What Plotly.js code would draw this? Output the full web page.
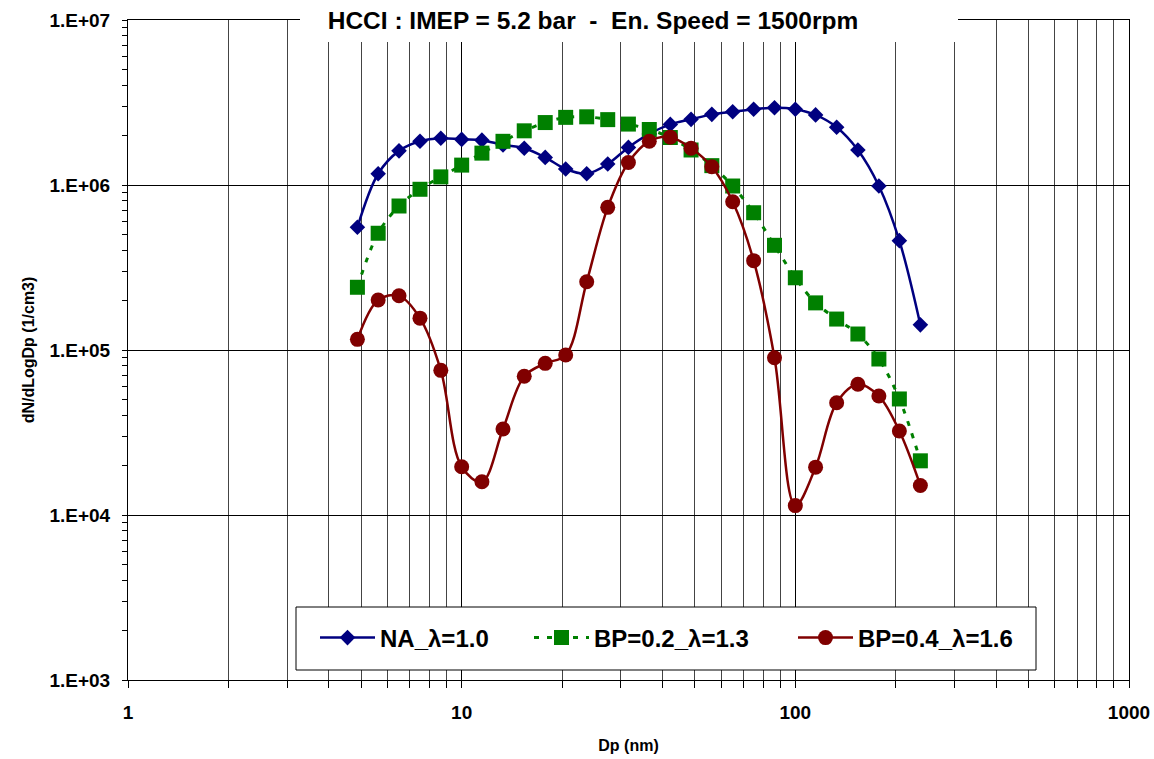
<!DOCTYPE html>
<html>
<head>
<meta charset="utf-8">
<script src="https://cdn.plot.ly/plotly-3.0.1.min.js"></script>
<style>html,body{margin:0;padding:0;background:#fff;}#chart{width:1154px;height:759px;}</style>
</head>
<body>
<div id="chart"></div>
<script>
// Particle diameter channels (nm)
const dp = [4.87, 5.62, 6.49, 7.50, 8.66, 10.0, 11.5, 13.3, 15.4, 17.8, 20.5, 23.7, 27.4, 31.6,
            36.5, 42.2, 48.7, 56.2, 64.9, 75.0, 86.6, 100, 115, 133, 154, 178, 205, 237];

// dN/dLogDp (1/cm3)
const naLambda10 = [5.54e5, 1.17e6, 1.61e6, 1.84e6, 1.92e6, 1.89e6, 1.87e6, 1.75e6, 1.67e6, 1.47e6,
                    1.25e6, 1.17e6, 1.34e6, 1.69e6, 2.04e6, 2.33e6, 2.50e6, 2.68e6, 2.78e6, 2.88e6,
                    2.94e6, 2.88e6, 2.66e6, 2.24e6, 1.63e6, 9.86e5, 4.60e5, 1.42e5];
const bp02Lambda13 = [2.40e5, 5.10e5, 7.46e5, 9.42e5, 1.12e6, 1.32e6, 1.56e6, 1.84e6, 2.13e6, 2.39e6,
                      2.57e6, 2.59e6, 2.49e6, 2.34e6, 2.17e6, 1.94e6, 1.63e6, 1.31e6, 9.86e5, 6.79e5,
                      4.31e5, 2.74e5, 1.93e5, 1.54e5, 1.25e5, 8.82e4, 5.05e4, 2.13e4];
const bp04Lambda16 = [1.16e5, 2.01e5, 2.13e5, 1.56e5, 7.53e4, 1.96e4, 1.59e4, 3.32e4, 6.93e4, 8.30e4,
                      9.33e4, 2.59e5, 7.32e5, 1.37e6, 1.84e6, 1.95e6, 1.67e6, 1.29e6, 7.92e5, 3.48e5,
                      8.98e4, 1.14e4, 1.95e4, 4.79e4, 6.20e4, 5.26e4, 3.23e4, 1.51e4];

const seriesNames = ['NA_λ=1.0', 'BP=0.2_λ=1.3', 'BP=0.4_λ=1.6'];

const xMajor = [1, 10, 100, 1000];
const xMajorText = ['1', '10', '100', '1000'];
const xMinor = [2,3,4,5,6,7,8,9,20,30,40,50,60,70,80,90,200,300,400,500,600,700,800,900];
const yMajor = [1e3, 1e4, 1e5, 1e6, 1e7];
const yMajorText = ['1.E+03', '1.E+04', '1.E+05', '1.E+06', '1.E+07'];
const yMinor = [2e3,3e3,4e3,5e3,6e3,7e3,8e3,9e3,2e4,3e4,4e4,5e4,6e4,7e4,8e4,9e4,
                2e5,3e5,4e5,5e5,6e5,7e5,8e5,9e5,2e6,3e6,4e6,5e6,6e6,7e6,8e6,9e6];

const FONT = 'Liberation Sans, Arial, sans-serif';

const traces = [
  {x: dp, y: naLambda10, name: seriesNames[0], type: 'scatter', mode: 'lines+markers', legend: 'legend',
   line: {color: '#000080', width: 2.5, shape: 'spline', smoothing: 1},
   marker: {symbol: 'diamond', size: 12, color: '#000080'}},
  {x: dp, y: bp02Lambda13, name: seriesNames[1], type: 'scatter', mode: 'lines+markers', legend: 'legend2',
   line: {color: '#008000', width: 3, shape: 'spline', smoothing: 1, dash: '5px,8px'},
   marker: {symbol: 'square', size: 15, color: '#008000'}},
  {x: dp, y: bp04Lambda16, name: seriesNames[2], type: 'scatter', mode: 'lines+markers', legend: 'legend3',
   line: {color: '#800000', width: 2.5, shape: 'spline', smoothing: 1},
   marker: {symbol: 'circle', size: 15, color: '#800000'}}
];

const px2x = p => (p - 128) / 1001;
const py2y = p => (680 - p) / 660;

const legendBase = px => ({
  orientation: 'h', x: px2x(px), xanchor: 'left', y: py2y(638), yanchor: 'middle',
  bgcolor: 'rgba(0,0,0,0)', borderwidth: 0, itemwidth: 55,
  font: {family: FONT, size: 24, color: '#000', weight: 'bold'}
});

const layout = {
  width: 1154, height: 759,
  margin: {l: 128, r: 25, t: 20, b: 79},
  paper_bgcolor: '#fff', plot_bgcolor: '#fff',
  font: {family: FONT, color: '#000', weight: 'bold'},
  showlegend: true,
  title: {text: 'HCCI : IMEP = 5.2 bar  -  En. Speed = 1500rpm',
          font: {family: FONT, size: 24.5, color: '#000', weight: 'bold'},
          xref: 'container', x: 593/1154, xanchor: 'center',
          yref: 'container', y: 1 - 20/759, yanchor: 'middle'},
  xaxis: {type: 'log', range: [0, 3], tickmode: 'array', tickvals: xMajor, ticktext: xMajorText,
          showgrid: true, gridcolor: '#000', gridwidth: 1,
          ticks: 'outside', ticklen: 7, tickcolor: '#000',
          minor: {tickmode: 'array', tickvals: xMinor, showgrid: true, gridcolor: '#444', gridwidth: 1,
                  ticks: 'outside', ticklen: 7, tickcolor: '#000'},
          showline: true, linecolor: '#000', linewidth: 1, mirror: true, zeroline: false,
          ticklabelstandoff: 8,
          tickfont: {family: FONT, size: 19, weight: 'bold'},
          title: {text: 'Dp (nm)', font: {family: FONT, size: 16, weight: 'bold'}, standoff: 18}},
  yaxis: {type: 'log', range: [3, 7], tickmode: 'array', tickvals: yMajor, ticktext: yMajorText,
          showgrid: true, gridcolor: '#000', gridwidth: 1,
          ticks: 'outside', ticklen: 5, tickcolor: '#000',
          minor: {tickmode: 'array', tickvals: yMinor, showgrid: false, ticks: 'outside', ticklen: 5, tickcolor: '#000'},
          showline: true, linecolor: '#000', linewidth: 1, mirror: true, zeroline: false,
          ticklabelstandoff: 8,
          tickfont: {family: FONT, size: 19, weight: 'bold'},
          title: {text: 'dN/dLogDp (1/cm3)', font: {family: FONT, size: 16, weight: 'bold'}, standoff: 10}},
  legend: legendBase(315),
  legend2: legendBase(529),
  legend3: legendBase(793),
  shapes: [
    {type: 'rect', xref: 'paper', yref: 'paper', layer: 'above',
     x0: px2x(300), x1: px2x(958), y0: py2y(42), y1: py2y(-2),
     fillcolor: '#fff', line: {width: 0}},
    {type: 'rect', xref: 'paper', yref: 'paper', layer: 'above',
     x0: px2x(296), x1: px2x(1036), y0: py2y(670), y1: py2y(607),
     fillcolor: '#fff', line: {color: '#000', width: 1}}
  ]
};

Plotly.newPlot('chart', traces, layout, {displayModeBar: false, staticPlot: true});
</script>
</body>
</html>
